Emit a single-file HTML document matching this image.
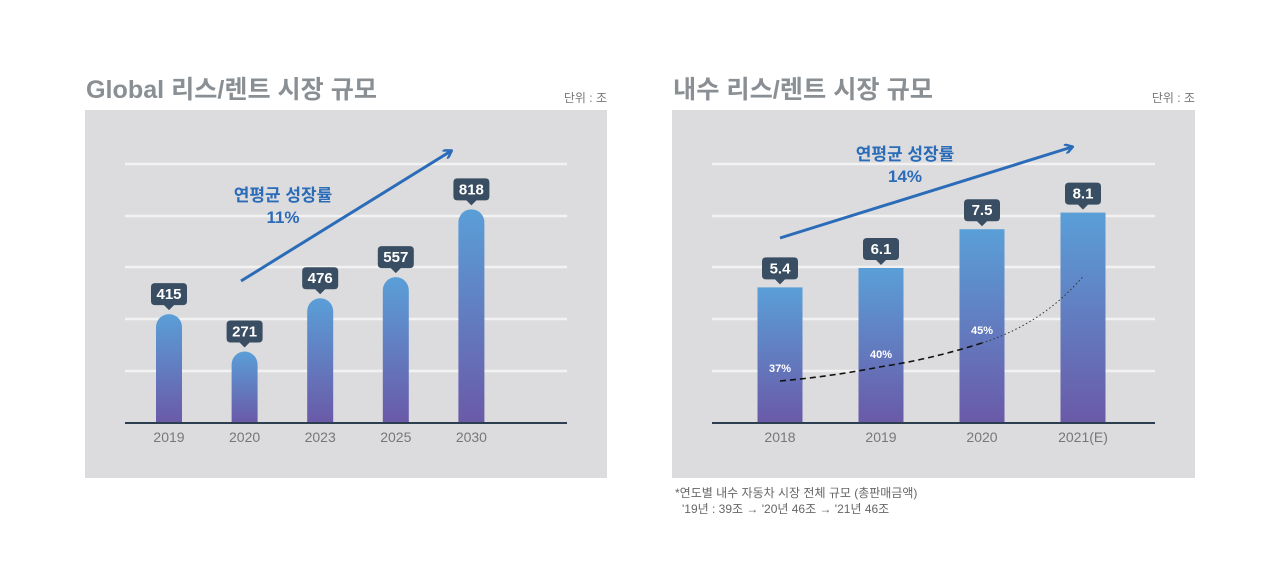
<!DOCTYPE html>
<html><head><meta charset="utf-8">
<style>
body{margin:0;width:1280px;height:574px;background:#fff;overflow:hidden;font-family:"Liberation Sans","Noto Sans CJK KR",sans-serif}
svg{position:absolute;left:0;top:0}
</style></head>
<body>
<svg width="1280" height="574">
<defs>
<linearGradient id="g" x1="0" y1="0" x2="0" y2="1"><stop offset="0" stop-color="#5a9fd8"/><stop offset="1" stop-color="#6a5aa8"/></linearGradient>
<marker id="ah" markerWidth="10" markerHeight="10" refX="8" refY="5" orient="auto" markerUnits="userSpaceOnUse"><path d="M1,0 L9,5 L1,10" fill="none" stroke="#2b6cb8" stroke-width="2.5"/></marker>
</defs>
<g id="left">
<text x="86" y="98" font-size="25" font-weight="bold" fill="#8a8f94" textLength="291" lengthAdjust="spacingAndGlyphs">Global 리스/렌트 시장 규모</text>
<text x="607" y="102" font-size="12" fill="#777" text-anchor="end">단위 : 조</text>
<rect x="85" y="110" width="522" height="368" fill="#dcdcde"/>
</g>
<g id="right">
<text x="673" y="98" font-size="25" font-weight="bold" fill="#8a8f94" textLength="260" lengthAdjust="spacingAndGlyphs">내수 리스/렌트 시장 규모</text>
<text x="1195" y="102" font-size="12" fill="#777" text-anchor="end">단위 : 조</text>
<rect x="672" y="110" width="523" height="368" fill="#dcdcde"/>
<text x="675" y="497" font-size="12" fill="#666">*연도별 내수 자동차 시장 전체 규모 (총판매금액)</text>
<text x="682" y="513" font-size="12" fill="#666">'19년 : 39조 → '20년 46조 → '21년 46조</text>
</g>
</svg>
<script>
const NS='http://www.w3.org/2000/svg';
const leftCats=['2019','2020','2023','2025','2030'];
const leftVals=[415,271,476,557,818];
const rightCats=['2018','2019','2020','2021(E)'];
const rightVals=[5.4,6.1,7.5,8.1];
const rightLabels=['5.4','6.1','7.5','8.1'];
const sharePct=[37,40,45];
const shareProjected=59;
const leftGrowth='11%';
const rightGrowth='14%';

function mk(parent,tag,attrs,text){const e=document.createElementNS(NS,tag);for(const k in attrs)e.setAttribute(k,attrs[k]);if(text!==undefined)e.textContent=text;parent.appendChild(e);return e;}
const base=422;
function grid(g,x1,x2,prefix){
  [164,216,267,319,371].forEach(y=>{const l=mk(g,'line',{x1:x1,x2:x2,y1:y,y2:y,stroke:'#f2f2f2','stroke-width':2.5});
  
  });
  const b=mk(g,'line',{x1:x1,x2:x2,y1:base+1,y2:base+1,stroke:'#2d3e50','stroke-width':2});
  
  
}
function bubble(g,cx,topY,txt,name){
  const w=txt.length>=3?36:34,h=22,y=topY-h-7;
  const p=mk(g,'path',{d:`M${cx-w/2+4},${y} h${w-8} q4,0 4,4 v${h-8} q0,4 -4,4 h${-(w/2-9)} l-5,5 l-5,-5 h${-(w/2-9)} q-4,0 -4,-4 v${-(h-8)} q0,-4 4,-4z`,fill:'#3a4e63'});
  
  
  const t=mk(g,'text',{x:cx,y:y+16,'text-anchor':'middle','font-size':15,'font-weight':'bold',fill:'#fff'},txt);
  
  
}
// left chart
const L=document.getElementById('left');
grid(L,125,567,'global');
const lx=i=>169+i*75.6, ly=v=>base-v*0.26;
leftVals.forEach((v,i)=>{
  const cx=lx(i),top=ly(v),w=26;
  const r=mk(L,'path',{d:`M${cx-w/2},${base} V${top+w/2} A${w/2},${w/2} 0 0 1 ${cx+w/2},${top+w/2} V${base}Z`,fill:'url(#g)'});
  
  
  bubble(L,cx,top-2,String(v),'global-'+leftCats[i]);
  const t=mk(L,'text',{x:cx,y:442,'text-anchor':'middle','font-size':14,fill:'#777'},leftCats[i]);
  
  
});
const la=mk(L,'line',{x1:241,y1:281,x2:451,y2:151,stroke:'#2b6cb8','stroke-width':3,'marker-end':'url(#ah)'});


const lt1=mk(L,'text',{x:283,y:201,'text-anchor':'middle','font-size':17,'font-weight':'bold',fill:'#2b6cb8'},'연평균 성장률');


const lt2=mk(L,'text',{x:283,y:223,'text-anchor':'middle','font-size':17,'font-weight':'bold',fill:'#2b6cb8'},leftGrowth);


// right chart
const R=document.getElementById('right');
grid(R,712,1155,'domestic');
const rx=i=>780+i*101, ry=v=>base-(v-0.54)*27.7;
rightVals.forEach((v,i)=>{
  const cx=rx(i),top=ry(v),w=45;
  const r=mk(R,'rect',{x:cx-w/2,y:top,width:w,height:base-top,fill:'url(#g)'});
  
  
  bubble(R,cx,top-1,rightLabels[i],'domestic-'+rightCats[i]);
  const t=mk(R,'text',{x:cx,y:442,'text-anchor':'middle','font-size':14,fill:'#777'},rightCats[i]);
  
  
});
const py=p=>381-(p-37)*4.75;
const pts=sharePct.map((p,i)=>[rx(i),py(p)]);
let d=`M${pts[0][0]},${pts[0][1]}`;
for(let i=1;i<pts.length;i++){const a=pts[i-1],b=pts[i];d+=` Q${(a[0]+b[0])/2},${(a[1]*0.55+b[1]*0.45)+ (i===1?2:3)} ${b[0]},${b[1]}`;}
const dl=mk(R,'path',{d:d,fill:'none',stroke:'#111','stroke-width':1.6,'stroke-dasharray':'6,4'});


const last=pts[pts.length-1],endP=[rx(3),py(shareProjected)];
const dl2=mk(R,'path',{d:`M${last[0]},${last[1]} Q${(last[0]+endP[0])/2+10},${(last[1]+endP[1])/2+14} ${endP[0]},${endP[1]}`,fill:'none',stroke:'#333','stroke-width':1,'stroke-dasharray':'1.5,2.5'});


sharePct.forEach((p,i)=>{
  const t=mk(R,'text',{x:rx(i),y:py(p)-9,'text-anchor':'middle','font-size':11,'font-weight':'bold',fill:'#fff'},p+'%');
  
  
});
const ra=mk(R,'line',{x1:780,y1:238,x2:1072,y2:147,stroke:'#2b6cb8','stroke-width':3,'marker-end':'url(#ah)'});


const rt1=mk(R,'text',{x:905,y:160,'text-anchor':'middle','font-size':17,'font-weight':'bold',fill:'#2b6cb8'},'연평균 성장률');


const rt2=mk(R,'text',{x:905,y:182,'text-anchor':'middle','font-size':17,'font-weight':'bold',fill:'#2b6cb8'},rightGrowth);


</script>
</body></html>
